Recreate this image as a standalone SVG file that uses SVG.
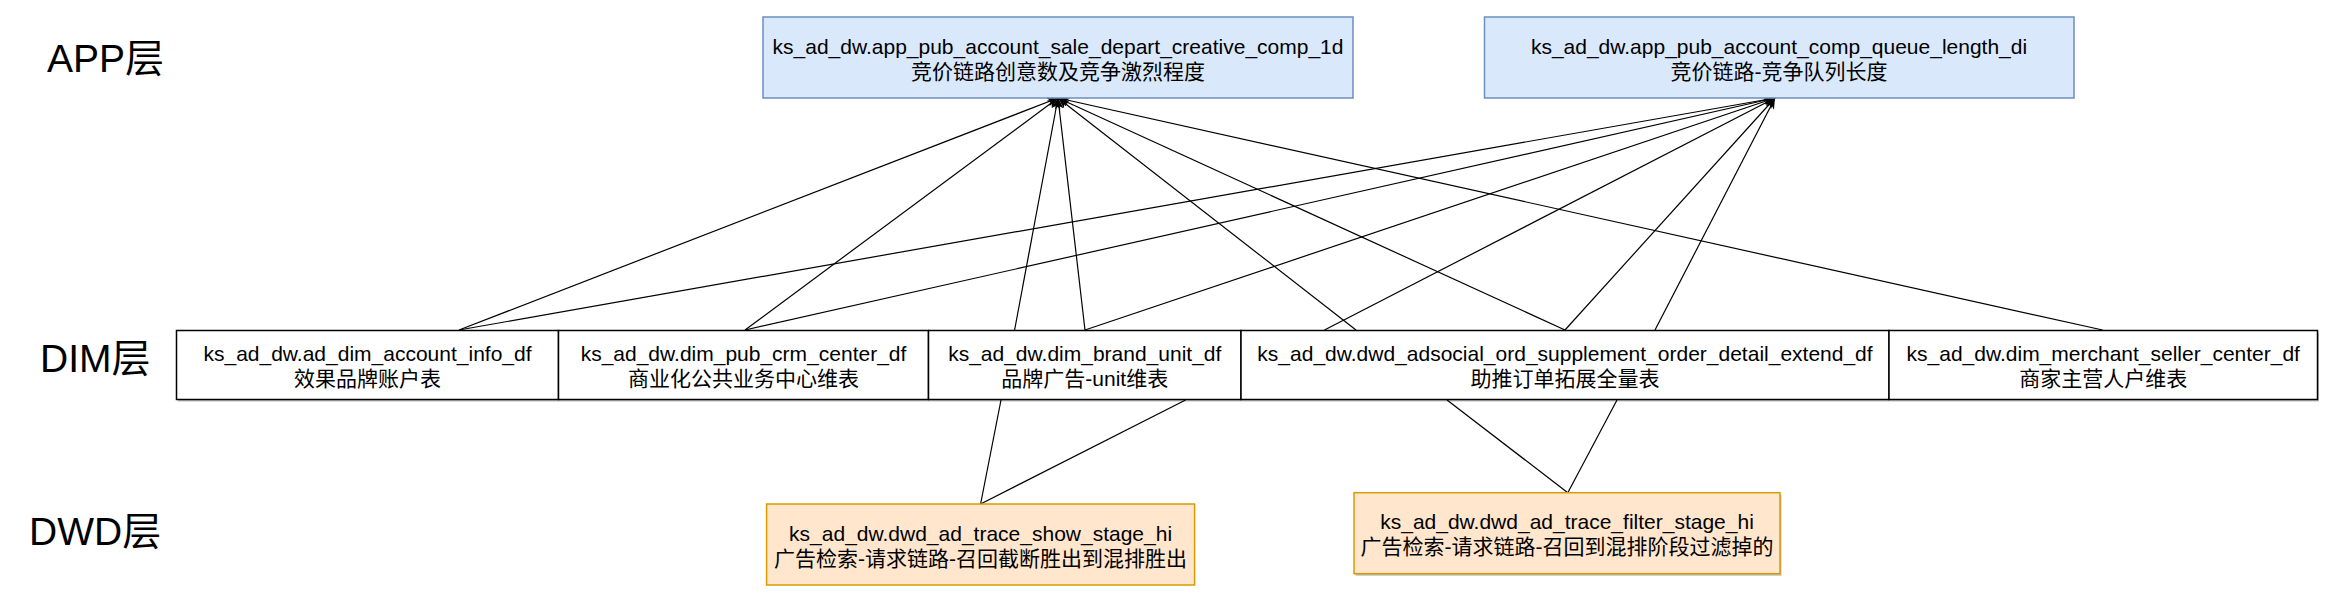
<svg xmlns="http://www.w3.org/2000/svg" width="2338" height="596" viewBox="0 0 2338 596">
<style>
  .lbl{font-family:"Liberation Sans","Noto Sans CJK SC",sans-serif;font-size:39px;fill:#000}
  .t{font-family:"Liberation Sans","Noto Sans CJK SC",sans-serif;font-size:21px;fill:#000;text-anchor:middle}
  .app{fill:#dae8fc;stroke:#6c8ebf;stroke-width:1.5}
  .dim{fill:#ffffff;stroke:#000;stroke-width:1.5}
  .dwd{fill:#ffe6cc;stroke:#d79b00;stroke-width:1.5}
  .sh{fill:#000;opacity:0.25}
  .e{stroke:#000;stroke-width:1.2;fill:none}
</style>
<defs>
  <marker id="arr" markerUnits="userSpaceOnUse" markerWidth="12" markerHeight="10" refX="11" refY="4.5" orient="auto">
    <path d="M0,0 L11,4.5 L0,9 L3,4.5 Z" fill="#000"/>
  </marker>
</defs>
<rect width="2338" height="596" fill="#fff"/>

<g id="layer-labels">
  <text class="lbl" x="47" y="72">APP层</text>
  <text class="lbl" x="40" y="372">DIM层</text>
  <text class="lbl" x="29" y="545">DWD层</text>
</g>

<g id="connectors">
  <line class="e" x1="459" y1="330" x2="1058" y2="98" marker-end="url(#arr)"/>
  <line class="e" x1="745" y1="330" x2="1058" y2="98" marker-end="url(#arr)"/>
  <line class="e" x1="1014.6" y1="330" x2="1058" y2="98" marker-end="url(#arr)"/>
  <line class="e" x1="1085" y1="330" x2="1058" y2="98" marker-end="url(#arr)"/>
  <line class="e" x1="1356" y1="330" x2="1058" y2="98" marker-end="url(#arr)"/>
  <line class="e" x1="1565" y1="330" x2="1058" y2="98" marker-end="url(#arr)"/>
  <line class="e" x1="2102.6" y1="330" x2="1058" y2="98" marker-end="url(#arr)"/>
  <line class="e" x1="459" y1="330" x2="1775" y2="98" marker-end="url(#arr)"/>
  <line class="e" x1="745" y1="330" x2="1775" y2="98" marker-end="url(#arr)"/>
  <line class="e" x1="1085" y1="330" x2="1775" y2="98" marker-end="url(#arr)"/>
  <line class="e" x1="1324.5" y1="330" x2="1775" y2="98" marker-end="url(#arr)"/>
  <line class="e" x1="1565" y1="330" x2="1775" y2="98" marker-end="url(#arr)"/>
  <line class="e" x1="1655" y1="330" x2="1775" y2="98" marker-end="url(#arr)"/>
  <line class="e" x1="980.6" y1="504" x2="1001" y2="400"/>
  <line class="e" x1="980.6" y1="504" x2="1185.6" y2="400"/>
  <line class="e" x1="1567.8" y1="492.7" x2="1447" y2="400"/>
  <line class="e" x1="1567.8" y1="492.7" x2="1617" y2="400"/>
</g>

<g id="app1">
  <rect class="app" x="763" y="17" width="590" height="81"/>
  <text class="t" x="1058" y="53.5">ks_ad_dw.app_pub_account_sale_depart_creative_comp_1d</text>
  <text class="t" x="1058" y="78.5">竞价链路创意数及竞争激烈程度</text>
</g>
<g id="app2">
  <rect class="app" x="1484.5" y="17" width="589.5" height="81"/>
  <text class="t" x="1779" y="53.5">ks_ad_dw.app_pub_account_comp_queue_length_di</text>
  <text class="t" x="1779" y="78.5">竞价链路-竞争队列长度</text>
</g>

<g id="dim-account">
  <rect class="sh" x="178" y="332.5" width="382" height="69"/>
  <rect class="dim" x="176.5" y="330.5" width="382" height="69"/>
  <text class="t" x="367.5" y="361">ks_ad_dw.ad_dim_account_info_df</text>
  <text class="t" x="367.5" y="386">效果品牌账户表</text>
</g>
<g id="dim-crm">
  <rect class="sh" x="560" y="332.5" width="370" height="69"/>
  <rect class="dim" x="558.5" y="330.5" width="370" height="69"/>
  <text class="t" x="743.5" y="361">ks_ad_dw.dim_pub_crm_center_df</text>
  <text class="t" x="743.5" y="386">商业化公共业务中心维表</text>
</g>
<g id="dim-brand">
  <rect class="sh" x="930" y="332.5" width="312.5" height="69"/>
  <rect class="dim" x="928.5" y="330.5" width="312.5" height="69"/>
  <text class="t" x="1084.75" y="361">ks_ad_dw.dim_brand_unit_df</text>
  <text class="t" x="1084.75" y="386">品牌广告-unit维表</text>
</g>
<g id="dim-adsocial">
  <rect class="sh" x="1242.5" y="332.5" width="648" height="69"/>
  <rect class="dim" x="1241" y="330.5" width="648" height="69"/>
  <text class="t" x="1565" y="361">ks_ad_dw.dwd_adsocial_ord_supplement_order_detail_extend_df</text>
  <text class="t" x="1565" y="386">助推订单拓展全量表</text>
</g>
<g id="dim-merchant">
  <rect class="sh" x="1890.5" y="332.5" width="428.5" height="69"/>
  <rect class="dim" x="1889" y="330.5" width="428.5" height="69"/>
  <text class="t" x="2103.25" y="361">ks_ad_dw.dim_merchant_seller_center_df</text>
  <text class="t" x="2103.25" y="386">商家主营人户维表</text>
</g>

<g id="dwd-show">
  <rect class="dwd" x="766.6" y="504" width="428" height="81"/>
  <text class="t" x="980.6" y="540.5">ks_ad_dw.dwd_ad_trace_show_stage_hi</text>
  <text class="t" x="980.6" y="565.5">广告检索-请求链路-召回截断胜出到混排胜出</text>
</g>
<g id="dwd-filter">
  <rect class="sh" x="1355.5" y="494.7" width="426" height="81"/>
  <rect class="dwd" x="1354" y="492.7" width="426" height="81"/>
  <text class="t" x="1567" y="529">ks_ad_dw.dwd_ad_trace_filter_stage_hi</text>
  <text class="t" x="1567" y="554">广告检索-请求链路-召回到混排阶段过滤掉的</text>
</g>
</svg>
